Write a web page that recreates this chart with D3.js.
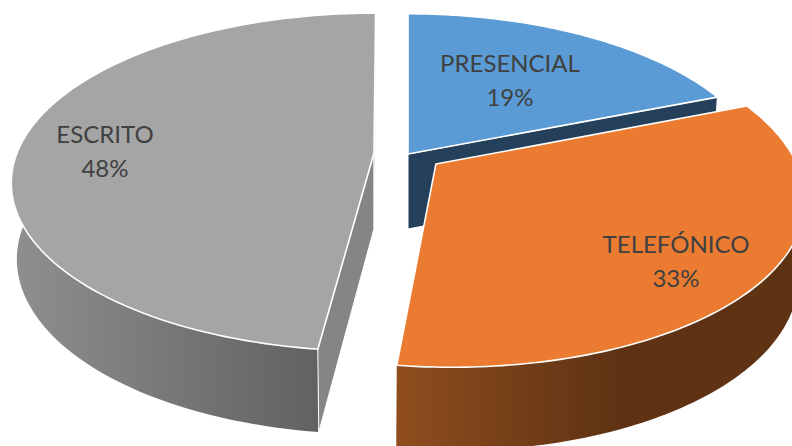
<!DOCTYPE html>
<html><head><meta charset="utf-8">
<script src="https://cdn.jsdelivr.net/npm/d3@7"></script>
<style>html,body{margin:0;padding:0;background:#fff;overflow:hidden}svg{display:block}</style>
</head><body><svg id="c" width="792" height="446"></svg>
<script>
// data
const categories = ["PRESENCIAL", "TELEFÓNICO", "ESCRITO"];
const shares = [19, 33, 48];
const percentLabels = ["19%", "33%", "48%"];

// styling / layout (projection of the pie plane)
const topColors = ["#5b9bd5", "#ea7b30", "#a5a5a5"];
const wallStops = [["#24405a", "#24405a"], ["#8f4d1e", "#5e3213"], ["#8e8e8e", "#616161"]];
const cutColors = ["#24405a", "#7a4018", "#858585"];
const vanishX = [408, 361, 385];
const explodeU = [0, 74, -11];
const explodeV = [-0.006, -0.0667, 0];
const sliceScale = [0.99, 1, 1];
const visibleCuts = [[1], [], [0, 1]];
const labelAt = [[510, 72], [676, 253], [105, 143]];
const cy = 153, Rx = 357, Sy = 164, persp = 0.172;
const drop = 75, shrink = 0.985, stretch = 1.04, lineGap = 34;

const svg = d3.select("#c");
const defs = svg.append("defs");
const pie = d3.pie().sort(null).value(d => d)(shares);

function project(i, a, r) {
  const R = Rx * sliceScale[i];
  const u = explodeU[i] / R + r * Math.sin(a);
  const v = explodeV[i] + r * Math.cos(a);
  const w = 1 + persp * v;
  return [vanishX[i] + R * u / w, cy - Sy * v / w];
}
const samples = (a0, a1) => d3.range(0, 121).map(k => a0 + (a1 - a0) * k / 120);
const line = d3.line();

function rim(i, a0, a1) { return samples(a0, a1).map(a => project(i, a, 1)); }

// paint order: back slice first, nearest slice last
[2, 0, 1].forEach(i => {
  const s = pie[i], g = svg.append("g");
  const lower = p => [vanishX[i] + (p[0] - vanishX[i]) * shrink, cy + drop + (p[1] - cy) * stretch];
  const top = rim(i, s.startAngle, s.endAngle);
  const apex = project(i, 0, 0);

  const grad = defs.append("linearGradient").attr("id", "wall" + i)
    .attr("gradientUnits", "userSpaceOnUse")
    .attr("x1", i === 2 ? 20 : 397).attr("x2", i === 2 ? 320 : 620)
    .attr("y1", 0).attr("y2", 0);
  grad.append("stop").attr("offset", 0).attr("stop-color", wallStops[i][0]);
  grad.append("stop").attr("offset", 1).attr("stop-color", wallStops[i][1]);

  // outer wall
  g.append("path").attr("d", line(top.concat(top.map(lower).reverse())) + "Z")
    .attr("fill", `url(#wall${i})`);

  // cut faces
  visibleCuts[i].forEach(k => {
    const p = k === 0 ? top[0] : top[top.length - 1];
    const q = [apex, p, lower(p), lower(apex)];
    g.append("path").attr("d", line(q) + "Z")
      .attr("fill", cutColors[i]).attr("stroke", "#fff").attr("stroke-width", 1);
  });

  // top face
  g.append("path").attr("d", line([apex].concat(top)) + "Z")
    .attr("fill", topColors[i]).attr("stroke", "#fff").attr("stroke-width", 1.6)
    .attr("stroke-linejoin", "round");
});

// labels
const labels = svg.append("g").attr("font-family", "Lato, 'Open Sans', sans-serif")
  .attr("font-size", 24).attr("fill", "#404040").attr("text-anchor", "middle");
categories.forEach((c, i) => {
  labels.append("text").attr("x", labelAt[i][0]).attr("y", labelAt[i][1]).text(c);
  labels.append("text").attr("x", labelAt[i][0]).attr("y", labelAt[i][1] + lineGap).text(percentLabels[i]);
});
</script></body></html>
